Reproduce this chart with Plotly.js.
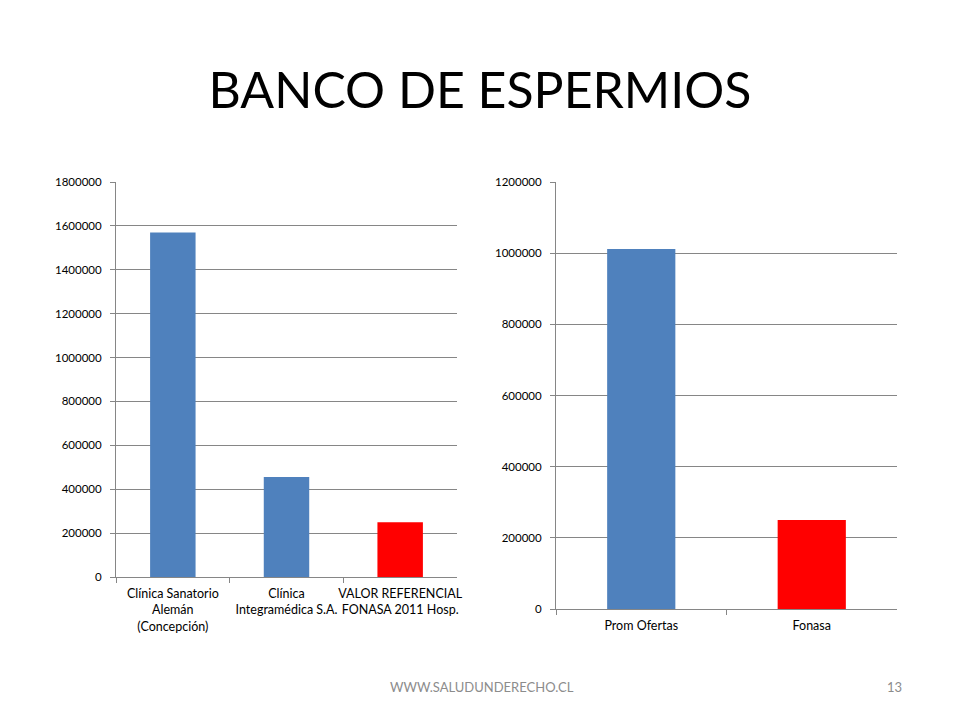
<!DOCTYPE html>
<html>
<head>
<meta charset="utf-8">
<script src="https://cdn.plot.ly/plotly-3.0.1.min.js"></script>
<style>html,body{margin:0;padding:0;background:#fff;}#chart{width:960px;height:720px;}</style>
</head>
<body>
<div id="chart"></div>
<script>
const leftCategories = ["Clínica Sanatorio<br>Alemán<br>(Concepción)", "Clínica<br>Integramédica S.A.", "VALOR REFERENCIAL<br>FONASA 2011 Hosp."];
const leftValues = [1570000, 456000, 250000];
const leftColors = ["#4F81BD", "#4F81BD", "#FF0000"];
const rightCategories = ["Prom Ofertas", "Fonasa"];
const rightValues = [1012000, 250000];
const rightColors = ["#4F81BD", "#FF0000"];
const leftTicks = [0, 200000, 400000, 600000, 800000, 1000000, 1200000, 1400000, 1600000, 1800000];
const rightTicks = [0, 200000, 400000, 600000, 800000, 1000000, 1200000];

const font = "Lato, 'Open Sans', sans-serif";
const gridC = "#868686";

const traces = [
  {type: "bar", x: leftCategories, y: leftValues, marker: {color: leftColors}, width: 0.4, xaxis: "x", yaxis: "y", hoverinfo: "none"},
  {type: "bar", x: rightCategories, y: rightValues, marker: {color: rightColors}, width: 0.4, xaxis: "x2", yaxis: "y2", hoverinfo: "none"}
];

const xBase = {type: "category", showline: true, linecolor: gridC, linewidth: 1, ticks: "outside", tickson: "boundaries", ticklen: 5, tickcolor: gridC, showgrid: false, tickangle: 0, ticklabelstandoff: 5, tickfont: {family: font, size: 12.5, color: "#000"}, fixedrange: true};
const yBase = {showline: true, linecolor: gridC, linewidth: 1, ticks: "outside", ticklen: 5, tickcolor: gridC, showgrid: true, gridcolor: gridC, gridwidth: 1, zeroline: false, ticklabelstandoff: 6, tickfont: {family: font, size: 11.5, color: "#000"}, tickformat: "d", fixedrange: true};

const layout = {
  width: 960, height: 720,
  margin: {l: 0, r: 0, t: 0, b: 0},
  paper_bgcolor: "#fff", plot_bgcolor: "#fff",
  showlegend: false,
  title: {text: "BANCO DE ESPERMIOS", font: {family: font, size: 50, color: "#000"}, x: 0.5, xanchor: "center", y: 1 - 90/720, yanchor: "middle"},
  xaxis: Object.assign({}, xBase, {domain: [116/960, 457/960], anchor: "y"}),
  yaxis: Object.assign({}, yBase, {domain: [(720-577)/720, (720-182)/720], range: [0, 1800000], tickvals: leftTicks, anchor: "x"}),
  xaxis2: Object.assign({}, xBase, {domain: [556/960, 897/960], anchor: "y2"}),
  yaxis2: Object.assign({}, yBase, {domain: [(720-609)/720, (720-182)/720], range: [0, 1200000], tickvals: rightTicks, anchor: "x2"}),
  annotations: [
    {text: "WWW.SALUDUNDERECHO.CL", x: 482/960, y: 1 - 687/720, xref: "paper", yref: "paper", xanchor: "center", yanchor: "middle", showarrow: false, font: {family: font, size: 13, color: "#8C8C8C"}},
    {text: "13", x: 904/960, y: 1 - 687/720, xref: "paper", yref: "paper", xanchor: "right", yanchor: "middle", showarrow: false, font: {family: font, size: 13, color: "#8C8C8C"}}
  ]
};

Plotly.newPlot("chart", traces, layout, {staticPlot: true, displayModeBar: false});
</script>
</body>
</html>
